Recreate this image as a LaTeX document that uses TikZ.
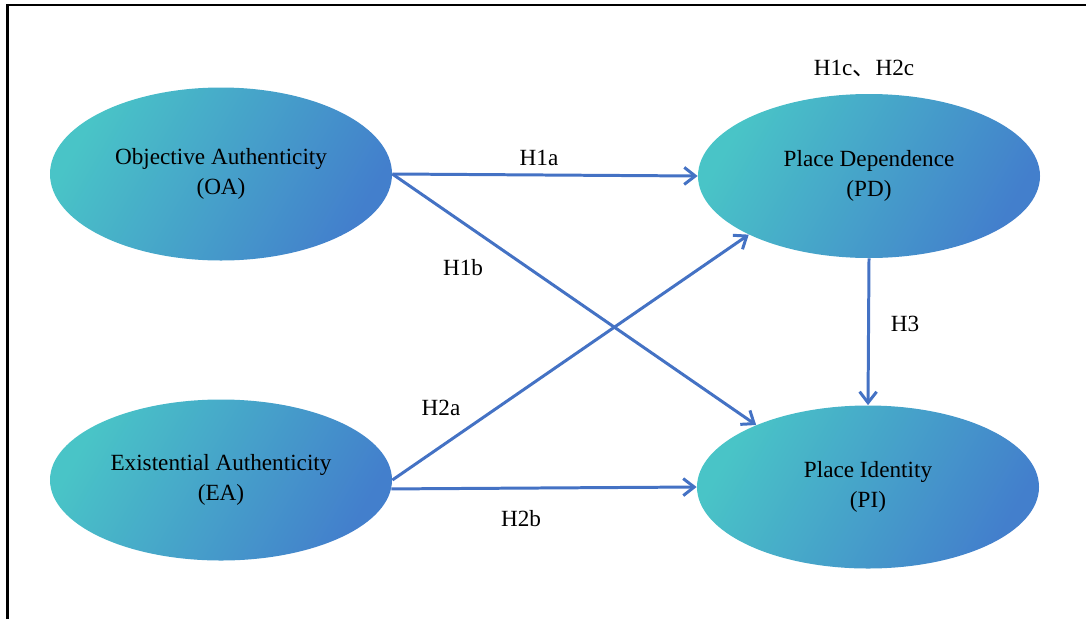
\documentclass[tikz,border=0pt]{standalone}
\usepackage{fontspec}
\setmainfont{Liberation Serif}
\newfontfamily\cjkfont{Noto Sans CJK SC}
\usetikzlibrary{shapes.geometric,arrows.meta}

\definecolor{ellCyan}{RGB}{73,196,199}
\definecolor{ellBlue}{RGB}{67,127,204}
\definecolor{pathBlue}{RGB}{68,114,196}

\tikzset{
  construct/.style={ellipse, minimum width=6.84cm, minimum height=3.28cm, inner sep=0pt,
    left color=ellCyan, right color=ellBlue, shading angle=60, align=center,
    font=\fontsize{13.2}{17}\selectfont},
  hyp/.style={draw=pathBlue, line width=1.7pt, -{Straight Barb[length=2.2mm,width=3.4mm]}},
  hyplabel/.style={inner sep=0pt, font=\fontsize{13.2}{16}\selectfont}
}

\begin{document}
\begin{tikzpicture}
\useasboundingbox (0, 0) rectangle (21.72, -12.38);
\draw[line width=1.6pt] (0.15, -12.38) -- (0.15, -0.1) -- (21.72, -0.1);

\node[construct, minimum height=3.46cm] (oa) at (4.42, -3.48) {Objective Authenticity\\(OA)};
\node[construct, minimum height=3.22cm] (ea) at (4.42, -9.6) {Existential Authenticity\\(EA)};
\node[construct] (pd) at (17.38, -3.52) {Place Dependence\\(PD)};
\node[construct, minimum height=3.26cm] (pi) at (17.36, -9.74) {Place Identity\\(PI)};

\draw[hyp] (oa.east) -- (pd.west);
\draw[hyp] (oa.east) -- (pi.151);
\draw[hyp] (ea.east) -- (pd.206);
\draw[hyp] (ea.-3) -- (pi.west);
\draw[hyp] (pd.south) -- (pi.north);

\node[hyplabel] (lH1a) at (10.78, -3.16) {H1a};
\node[hyplabel] (lH1b) at (9.26, -5.36) {H1b};
\node[hyplabel] (lH2a) at (8.82, -8.16) {H2a};
\node[hyplabel] (lH2b) at (10.42, -10.38) {H2b};
\node[hyplabel] (lH3) at (18.1, -6.48) {H3};
\node[hyplabel] (lH1c) at (17.28, -1.36) {H1c{\cjkfont 、}H2c};
\end{tikzpicture}
\end{document}
